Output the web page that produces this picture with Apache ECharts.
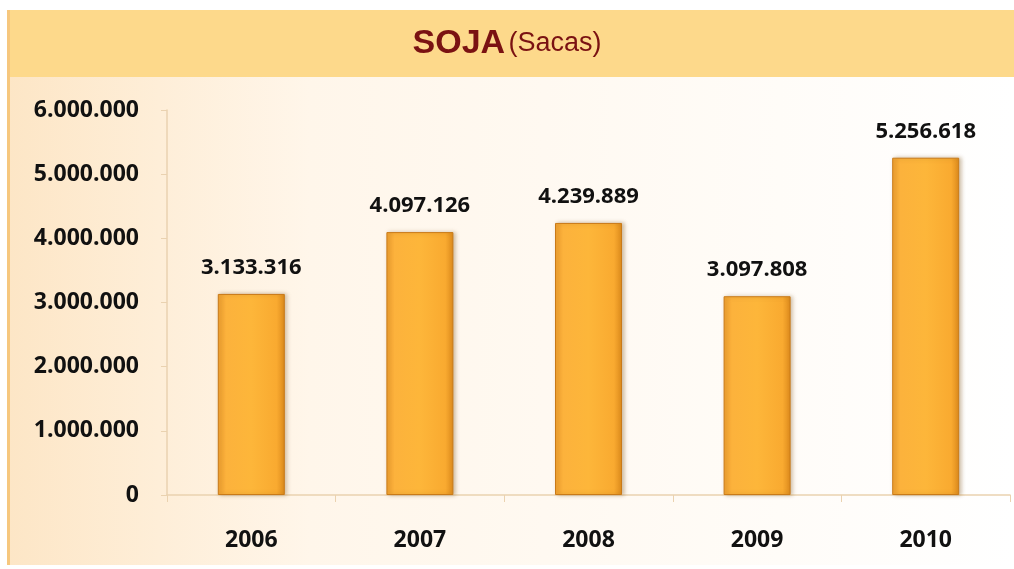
<!DOCTYPE html>
<html>
<head>
<meta charset="utf-8">
<script src="https://cdn.jsdelivr.net/npm/echarts@6/dist/echarts.min.js"></script>
<style>
    html, body { margin: 0; padding: 0; background: #fff; }
    #chart { width: 1014px; height: 569px; }
</style>
</head>
<body>
<div id="chart"></div>
<script>
let years = ['2006', '2007', '2008', '2009', '2010'];
let sacas = [3133316, 4097126, 4239889, 3097808, 5256618];

function formatPt(v) {
    return String(v).replace(/\B(?=(\d{3})+(?!\d))/g, '.');
}

let chart = echarts.init(document.getElementById('chart'));

chart.setOption({
    backgroundColor: '#fff',
    graphic: [
        {
            type: 'rect',
            z: -10,
            shape: { x: 8, y: 77, width: 1006, height: 488 },
            style: {
                fill: new echarts.graphic.LinearGradient(0, 0, 1, 0, [
                    { offset: 0, color: '#fde6c6' },
                    { offset: 0.3, color: '#fff6ea' },
                    { offset: 1, color: '#ffffff' }
                ])
            }
        },
        {
            type: 'rect',
            z: -9,
            shape: { x: 8, y: 10, width: 1006, height: 67 },
            style: { fill: '#fdd98b' }
        },
        {
            type: 'rect',
            z: -8,
            shape: { x: 7, y: 10, width: 3, height: 555 },
            style: { fill: '#f6c77e' }
        },
        {
            type: 'text',
            left: 'center',
            top: 27,
            style: {
                rich: {
                    a: { fontFamily: 'Liberation Sans', fontWeight: 'bold', fontSize: 34, fill: '#7a1212' },
                    b: { fontFamily: 'Liberation Sans', fontSize: 27, fill: '#7a1212' }
                },
                text: '{a|SOJA} {b|(Sacas)}'
            }
        }
    ],
    grid: {
        left: 167,
        right: 4,
        top: 110,
        bottom: 74
    },
    xAxis: {
        type: 'category',
        data: years,
        axisLine: { lineStyle: { color: '#ead2b0', width: 1.5 } },
        axisTick: { show: true, length: 7, lineStyle: { color: '#ead2b0' } },
        axisLabel: {
            margin: 34,
            fontFamily: 'Open Sans',
            fontWeight: 'bold',
            fontSize: 23,
            color: '#111'
        }
    },
    yAxis: {
        type: 'value',
        min: 0,
        max: 6000000,
        interval: 1000000,
        splitLine: { show: false },
        axisLine: { show: true, lineStyle: { color: '#ead2b0', width: 1.5 } },
        axisTick: { show: true, length: 6, lineStyle: { color: '#ead2b0' } },
        axisLabel: {
            margin: 28,
            fontFamily: 'Open Sans',
            fontWeight: 'bold',
            fontSize: 23,
            color: '#111',
            formatter: formatPt
        }
    },
    series: [
        {
            type: 'bar',
            data: sacas,
            barWidth: 67,
            itemStyle: {
                color: new echarts.graphic.LinearGradient(0, 0, 1, 0, [
                    { offset: 0, color: '#f0a030' },
                    { offset: 0.12, color: '#fcb23c' },
                    { offset: 0.5, color: '#fdb63a' },
                    { offset: 0.88, color: '#f9aa30' },
                    { offset: 1, color: '#dc8a1c' }
                ]),
                borderColor: '#c97a18',
                borderWidth: 1,
                shadowColor: 'rgba(120,80,20,0.35)',
                shadowBlur: 4,
                shadowOffsetX: 2,
                shadowOffsetY: 0
            },
            label: {
                show: true,
                position: 'top',
                distance: 15,
                fontFamily: 'Open Sans',
                fontWeight: 'bold',
                fontSize: 22,
                color: '#111',
                formatter: p => formatPt(p.value)
            }
        }
    ]
});
</script>
</body>
</html>
